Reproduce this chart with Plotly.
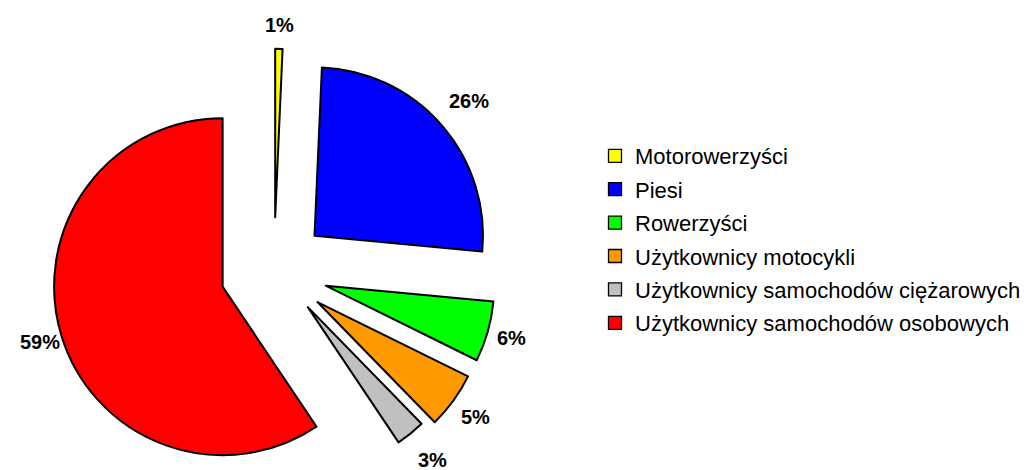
import numpy as np
import plotly.graph_objects as go

# ---- data -------------------------------------------------------------
LABELS = [
    "Motorowerzyści",
    "Piesi",
    "Rowerzyści",
    "Użytkownicy motocykli",
    "Użytkownicy samochodów ciężarowych",
    "Użytkownicy samochodów osobowych",
]
VALUES = [0.7, 25.8, 5.8, 5.4, 2.9, 59.4]   # percent shares
COLORS = ["#FFFF00", "#0000FF", "#00FF00", "#FF9900", "#C0C0C0", "#FF0000"]

# ---- layout constants (pixels) ----------------------------------------
W, H = 1031, 470
CX, CY = 274.0, 271.0      # centre of the un-exploded pie
R = 168.5                  # pie radius
EXPLODE = 53.7             # distance every slice is pulled out
LABEL_GAP = [24, 36, 25, 27, 29, 22.5]   # label distance beyond the arc
FONT = "Liberation Sans, Arial, sans-serif"

n = len(VALUES)
vals = np.array(VALUES, dtype=float)
frac = vals / vals.sum()
ends = np.cumsum(frac) * 360.0
starts = ends - frac * 360.0
mids = np.radians((starts + ends) / 2.0)

fig = go.Figure()
annotations = []
for i in range(n):
    ux, uy = np.sin(mids[i]), -np.cos(mids[i])
    ax, ay = CX + EXPLODE * ux, CY + EXPLODE * uy
    # label position from the slice geometry (kept inside the picture)
    lx = ax + (R + LABEL_GAP[i]) * ux
    ly = min(ay + (R + LABEL_GAP[i]) * uy, H - 10)
    annotations.append(dict(
        x=lx, y=ly, xref="x", yref="y", text=f"{round(VALUES[i])}%",
        showarrow=False, xanchor="center", yanchor="middle",
        font=dict(family=FONT, size=20, color="black", weight="bold"),
    ))
    # keep the full circle inside the plotting area
    r = R
    exc = ay + r - H
    if exc > 0:
        ay -= exc / 2
        r -= exc / 2
    exc = r - ay
    if exc > 0:
        ay += exc / 2
        r -= exc / 2
    dx0 = max(0.0, (ax - r) / W)
    dx1 = min(1.0, (ax + r) / W)
    dy0 = max(0.0, 1 - (ay + r) / H)
    dy1 = min(1.0, 1 - (ay - r) / H)
    fig.add_trace(go.Pie(
        values=VALUES,
        labels=LABELS,
        sort=False,
        direction="clockwise",
        rotation=0,
        marker=dict(
            colors=[COLORS[j] if j == i else "rgba(0,0,0,0)" for j in range(n)],
            line=dict(color="black", width=[2 if j == i else 0 for j in range(n)]),
        ),
        textinfo="none",
        hoverinfo="none",
        showlegend=False,
        domain=dict(x=[dx0, dx1], y=[dy0, dy1]),
    ))

# legend entries
for i in range(n):
    fig.add_trace(go.Scatter(
        x=[None], y=[None], mode="markers", name=LABELS[i],
        legendgroup=LABELS[i],
        marker=dict(symbol="square", size=13, color=COLORS[i],
                    line=dict(color="black", width=1.3)),
        hoverinfo="skip",
    ))

fig.update_layout(
    width=W, height=H,
    margin=dict(l=0, r=0, t=0, b=0),
    paper_bgcolor="white", plot_bgcolor="white",
    font=dict(family=FONT, color="black"),
    xaxis=dict(visible=False, range=[0, W], fixedrange=True),
    yaxis=dict(visible=False, range=[H, 0], fixedrange=True),
    showlegend=True,
    legend=dict(
        x=595 / W, y=1 - 135 / H, xanchor="left", yanchor="top",
        font=dict(family=FONT, size=22, color="black"),
        tracegroupgap=1.8, bgcolor="rgba(0,0,0,0)",
    ),
    annotations=annotations,
)

fig.write_html(
    "out.html",
    config={"displayModeBar": False},
    post_script="document.body.style.margin='0px';document.body.style.overflow='hidden';",
)
